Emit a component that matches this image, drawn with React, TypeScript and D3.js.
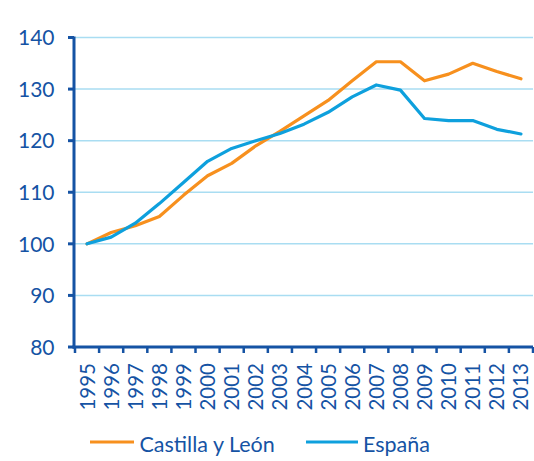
import React from "react";
import * as d3 from "d3";

const years = ["1995","1996","1997","1998","1999","2000","2001","2002","2003","2004","2005","2006","2007","2008","2009","2010","2011","2012","2013"];
const castilla = [100,102.2,103.5,105.3,109.4,113.2,115.6,119.0,121.8,124.8,127.8,131.6,135.3,135.3,131.6,132.9,135.0,133.4,132.0];
const espana = [100,101.3,104.0,107.8,111.9,116.0,118.5,120.0,121.4,123.2,125.5,128.5,130.8,129.8,124.3,123.9,123.9,122.2,121.3];
const yTicks = [80,90,100,110,120,130,140];
const seriesNames = ["Castilla y León","España"];
const seriesColors = ["#F7901E","#0EA0DD"];

const W = 534, H = 461;
const axisColor = "#1553A4";
const font = "Lato, sans-serif";

export default function App() {
  const x = d3.scaleBand<string>().domain(years).range([75, 533]);
  const y = d3.scaleLinear().domain([80, 140]).range([347, 37.5]);
  const line = d3.line<number>()
    .x((_, i) => (x(years[i]) as number) + x.bandwidth() / 2)
    .y((d) => y(d));
  const series = [castilla, espana];
  const boundaries = years.map((yr) => x(yr) as number).concat([x.range()[1]]);
  return (
    <svg width={W} height={H} style={{ position: "absolute", left: 0, top: 0, display: "block" }}>
      <rect width={W} height={H} fill="#fff" />
      {yTicks.filter((t) => t !== 80).map((t) => (
        <line key={"g" + t} x1={75} x2={533} y1={y(t)} y2={y(t)} stroke="#A9DDF2" strokeWidth={1.5} />
      ))}
      {series.map((s, i) => (
        <path key={i} d={line(s) || ""} fill="none" stroke={seriesColors[i]} strokeWidth={3.2} strokeLinejoin="round" strokeLinecap="round" />
      ))}
      <line x1={74} x2={74} y1={y(140) - 1} y2={y(80) + 1.5} stroke={axisColor} strokeWidth={3} />
      <line x1={72.5} x2={533} y1={y(80)} y2={y(80)} stroke={axisColor} strokeWidth={3} />
      {yTicks.map((t) => (
        <g key={"t" + t}>
          <line x1={68} x2={74} y1={y(t)} y2={y(t)} stroke={axisColor} strokeWidth={3} />
          <text x={54.5} y={y(t) + 7.8} textAnchor="end" fill={axisColor} fontSize={21} fontFamily={font}>{t}</text>
        </g>
      ))}
      {boundaries.map((b, i) => (
        <line key={"xb" + i} x1={b} x2={b} y1={y(80)} y2={y(80) + 6} stroke={axisColor} strokeWidth={2.5} />
      ))}
      {years.map((yr) => {
        const cx = (x(yr) as number) + x.bandwidth() / 2;
        return (
          <text key={yr} transform={`translate(${cx + 7.5},${363}) rotate(-90)`} textAnchor="end" fill={axisColor} fontSize={20.5} fontFamily={font}>{yr}</text>
        );
      })}
      <g>
        <line x1={90} x2={134} y1={442} y2={442} stroke={seriesColors[0]} strokeWidth={3} />
        <text x={139.5} y={451.5} fill={axisColor} fontSize={21.5} fontFamily={font}>{seriesNames[0]}</text>
        <line x1={306} x2={358} y1={442} y2={442} stroke={seriesColors[1]} strokeWidth={3} />
        <text x={363} y={451.5} fill={axisColor} fontSize={21.5} fontFamily={font}>{seriesNames[1]}</text>
      </g>
    </svg>
  );
}
